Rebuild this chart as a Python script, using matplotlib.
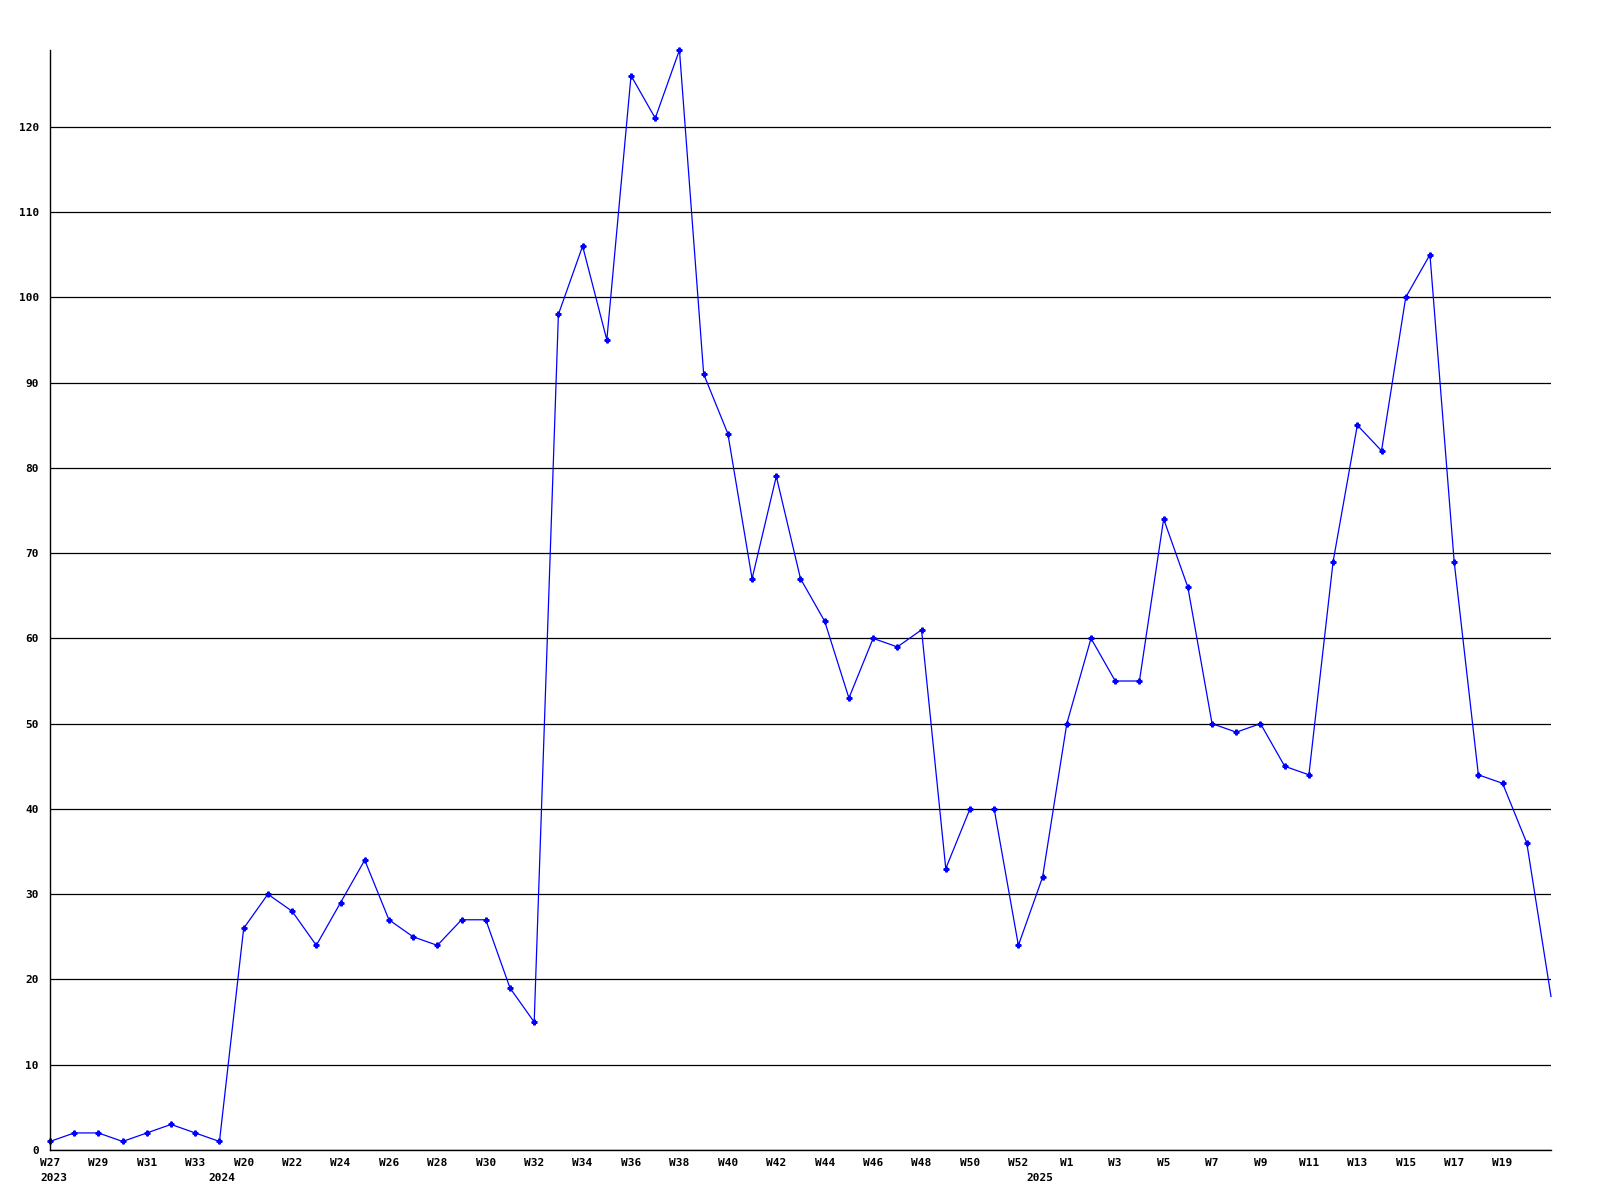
import matplotlib
matplotlib.use("Agg")
import matplotlib.pyplot as plt
import numpy as np

# --- weekly counts, three years back to back ---
weeks_2023 = [27, 28, 29, 30, 31, 32, 33, 34]
vals_2023 = [1, 2, 2, 1, 2, 3, 2, 1]

weeks_2024 = list(range(20, 54))
vals_2024 = [26, 30, 28, 24, 29, 34, 27, 25, 24, 27, 27, 19, 15, 98, 106, 95,
             126, 121, 129, 91, 84, 67, 79, 67, 62, 53, 60, 59, 61, 33, 40, 40,
             24, 32]

weeks_2025 = list(range(1, 22))
vals_2025 = [50, 60, 55, 55, 74, 66, 50, 49, 50, 45, 44, 69, 85, 82, 100, 105,
             69, 44, 43, 36, 18]

# line is not drawn between W50 and W51 of 2024
gap_after = ("2024", 50)

years = ["2023", "2024", "2025"]
year_label_pos = [0.15, 7.1, 40.9]

weeks = weeks_2023 + weeks_2024 + weeks_2025
values = np.array(vals_2023 + vals_2024 + vals_2025, dtype=float)
x = np.arange(len(values))

# --- figure ---
fig = plt.figure(figsize=(16, 12), dpi=100)
ax = fig.add_axes([50 / 1600, 50 / 1200, 1501 / 1600, 1100 / 1200])

font = dict(family="DejaVu Sans Mono", weight="bold", size=8)

brk = len(vals_2023) + weeks_2024.index(gap_after[1]) + 1
for xs, ys in [(x[:brk], values[:brk]), (x[brk:], values[brk:])]:
    # last point sits on the right edge, its marker is not drawn
    ax.plot(xs, ys, color="#0000ff", linewidth=0.9, marker="P",
            markersize=3.5, markevery=[i for i in range(len(xs)) if xs[i] < x[-1]],
            clip_on=False)

ax.set_xlim(0, len(values) - 1)
ax.set_ylim(0, 129)
ax.set_yticks(np.arange(0, 121, 10))
ax.set_yticklabels([str(v) for v in range(0, 121, 10)], fontdict=font)
ax.yaxis.grid(True, color="black", linewidth=0.9)
ax.set_axisbelow(True)

ax.set_xticks(x[:-1][::2])
ax.set_xticklabels([f"W{w}" for w in weeks[:-1][::2]], fontdict=font)
ax.tick_params(length=0)
ax.tick_params(axis="x", pad=5.5)
ax.tick_params(axis="y", pad=8)

for sp in ["top", "right"]:
    ax.spines[sp].set_visible(False)
for sp in ["left", "bottom"]:
    ax.spines[sp].set_linewidth(1.0)

trans = ax.get_xaxis_transform()
for pos, yr in zip(year_label_pos, years):
    ax.text(pos, -0.0205, yr, transform=trans, ha="center", va="top", **font)

fig.savefig("out.png", dpi=100)
